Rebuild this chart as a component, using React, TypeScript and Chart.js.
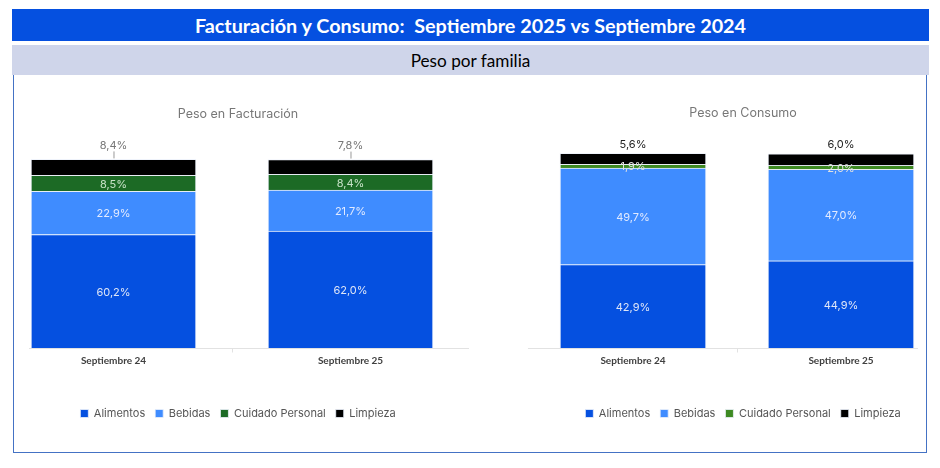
import React, { useRef, useEffect } from 'react';
import { Chart, ChartConfiguration, Plugin, registerables } from 'chart.js';

Chart.register(...registerables);

// categorías y familias
const categories = ['Septiembre 24', 'Septiembre 25'];
const families = ['Alimentos', 'Bebidas', 'Cuidado Personal', 'Limpieza'];

// Peso en Facturación (%)
const factAlimentos = [60.2, 62.0];
const factBebidas = [22.9, 21.7];
const factCuidado = [8.5, 8.4];
const factLimpieza = [8.4, 7.8];

// Peso en Consumo (%)
const consAlimentos = [42.9, 44.9];
const consBebidas = [49.7, 47.0];
const consCuidado = [1.9, 2.0];
const consLimpieza = [5.6, 6.0];

const chartFont = 'Inter, "Noto Sans", sans-serif';

const fmt = (v: number) => v.toFixed(1).replace('.', ',') + '%';

// etiquetas dentro de cada segmento, la última serie encima de la barra
const segmentLabels: Plugin<'bar'> = {
  id: 'segmentLabels',
  afterDatasetsDraw(chart, _args, opts: any) {
    const { ctx } = chart;
    const last = chart.data.datasets.length - 1;
    ctx.save();
    ctx.font = `${opts.size}px ${chartFont}`;
    ctx.textAlign = 'center';
    ctx.textBaseline = 'middle';
    chart.data.datasets.forEach((ds, di) => {
      const meta = chart.getDatasetMeta(di);
      meta.data.forEach((bar: any, i) => {
        const v = (ds.data[i] as any).y as number;
        const { x, y, base } = bar.getProps(['x', 'y', 'base'], true);
        if (di === last) {
          const ly = y - opts.outsideOffset;
          ctx.fillStyle = opts.outsideColor;
          ctx.fillText(fmt(v), x, ly);
          if (opts.leader) {
            ctx.strokeStyle = '#999';
            ctx.lineWidth = 1;
            ctx.beginPath();
            ctx.moveTo(x + 0.5, ly + 6);
            ctx.lineTo(x + 0.5, y - 1);
            ctx.stroke();
          }
        } else {
          ctx.fillStyle = opts.colors[di];
          ctx.fillText(fmt(v), x, (y + base) / 2 + 1);
        }
      });
    });
    ctx.restore();
  },
};

// línea de eje con su marca divisoria
const axisLine: Plugin<'bar'> = {
  id: 'axisLine',
  beforeDatasetsDraw(chart, _args, opts: any) {
    const { ctx } = chart;
    const xs = chart.scales.x;
    const y = Math.round(chart.chartArea.bottom) + 0.5;
    ctx.save();
    ctx.strokeStyle = opts.color;
    ctx.lineWidth = 1;
    ctx.beginPath();
    ctx.moveTo(xs.getPixelForValue(opts.from), y);
    ctx.lineTo(xs.getPixelForValue(opts.to), y);
    (opts.marks as number[]).forEach((m) => {
      const px = Math.round(xs.getPixelForValue(m)) + 0.5;
      ctx.moveTo(px, y);
      ctx.lineTo(px, y + 4);
    });
    ctx.stroke();
    ctx.restore();
  },
};

interface StackedProps {
  title: string;
  series: number[][];
  colors: string[];
  labelColors: string[];
  outsideColor: string;
  outsideOffset: number;
  leader: boolean;
  barThickness: number;
  xMin: number;
  xMax: number;
  axisFrom: number;
  axisTo: number;
  padLeft: number;
  padRight: number;
  titleTop: number;
  titleBottom: number;
  left: number;
  top: number;
  width: number;
  height: number;
}

const StackedChart: React.FC<StackedProps> = (p) => {
  const canvasRef = useRef<HTMLCanvasElement>(null);
  const chartRef = useRef<Chart | null>(null);

  useEffect(() => {
    if (!canvasRef.current) return;
    if (chartRef.current) chartRef.current.destroy();

    const yMax = Math.max(
      ...categories.map((_, i) => p.series.reduce((s, arr) => s + arr[i], 0))
    );

    const config: ChartConfiguration<'bar'> = {
      type: 'bar',
      data: {
        datasets: p.series.map((arr, di) => ({
          label: families[di],
          data: arr.map((v, i) => ({ x: i, y: v })) as any,
          backgroundColor: p.colors[di],
          borderColor: 'rgba(235,240,250,0.8)',
          borderWidth: 1,
          barThickness: p.barThickness,
          clip: false as any,
        })),
      },
      options: {
        responsive: true,
        maintainAspectRatio: false,
        animation: false,
        layout: { padding: { left: p.padLeft, right: p.padRight, top: 0, bottom: 20 } },
        scales: {
          x: {
            type: 'linear',
            offset: false,
            min: p.xMin,
            max: p.xMax,
            stacked: true,
            grid: { display: false, drawTicks: false, offset: false },
            border: { display: false },
            ticks: {
              stepSize: 1,
              includeBounds: false,
              autoSkip: false,
              maxRotation: 0,
              padding: 7,
              color: '#404040',
              font: { family: 'Lato, sans-serif', size: 10, weight: 'bold' },
              callback: (v: any) => (Number.isInteger(v) ? categories[v] ?? '' : ''),
            },
            afterFit: (s: any) => {
              s.height = 50;
            },
          },
          y: { stacked: true, min: 0, max: yMax, display: false },
        },
        plugins: {
          title: {
            display: true,
            text: p.title,
            color: '#777',
            font: { family: chartFont, size: 12.5, weight: 'normal' },
            padding: { top: p.titleTop, bottom: p.titleBottom },
          },
          legend: {
            position: 'bottom',
            labels: {
              boxWidth: 8,
              boxHeight: 8,
              padding: 10,
              color: '#555',
              font: { family: chartFont, size: 11 },
            },
          },
          tooltip: { enabled: false },
          segmentLabels: {
            size: 11,
            colors: p.labelColors,
            outsideColor: p.outsideColor,
            outsideOffset: p.outsideOffset,
            leader: p.leader,
          },
          axisLine: { color: '#e2e2e2', from: p.axisFrom, to: p.axisTo, marks: [0.5] },
        } as any,
      },
      plugins: [axisLine, segmentLabels],
    };

    chartRef.current = new Chart(canvasRef.current, config);
    return () => {
      if (chartRef.current) {
        chartRef.current.destroy();
        chartRef.current = null;
      }
    };
  }, [p]);

  return (
    <div style={{ position: 'absolute', left: p.left, top: p.top, width: p.width, height: p.height }}>
      <canvas ref={canvasRef} />
    </div>
  );
};

const factProps: StackedProps = {
  title: 'Peso en Facturación',
  series: [factAlimentos, factBebidas, factCuidado, factLimpieza],
  colors: ['#0550E0', '#3F8CFF', '#1C6A25', '#000000'],
  labelColors: ['#dfe6f7', '#e2eaff', '#c8e2c8'],
  outsideColor: '#777',
  outsideOffset: 14,
  leader: true,
  barThickness: 165,
  xMin: -0.3776,
  xMax: 1.4283,
  axisFrom: -0.3565,
  axisTo: 1.504,
  padLeft: 10,
  padRight: 17,
  titleTop: 30,
  titleBottom: 37.4,
  left: 14,
  top: 77,
  width: 455,
  height: 372,
};

const consProps: StackedProps = {
  title: 'Peso en Consumo',
  series: [consAlimentos, consBebidas, consCuidado, consLimpieza],
  colors: ['#0550E0', '#3F8CFF', '#3E8A22', '#000000'],
  labelColors: ['#dfe6f7', '#e2eaff', '#e0e0e0'],
  outsideColor: '#222',
  outsideOffset: 9,
  leader: false,
  barThickness: 146,
  xMin: -0.3029,
  xMax: 1.3606,
  axisFrom: -0.505,
  axisTo: 1.37,
  padLeft: 100,
  padRight: 9,
  titleTop: 29,
  titleBottom: 32.4,
  left: 470,
  top: 77,
  width: 455,
  height: 372,
};

export default function App() {
  return (
    <div
      style={{
        position: 'absolute',
        left: 0,
        top: 0,
        width: 940,
        height: 468,
        background: '#fff',
        fontFamily: 'Lato, "Open Sans", sans-serif',
      }}
    >
      <div
        style={{
          position: 'absolute',
          left: 12,
          top: 9,
          width: 917,
          height: 32,
          background: '#0550E0',
          color: '#fff',
          fontWeight: 700,
          fontSize: 19.8,
          display: 'flex',
          alignItems: 'center',
          justifyContent: 'center',
          whiteSpace: 'pre',
        }}
      >
        Facturación y Consumo:  Septiembre 2025 vs Septiembre 2024
      </div>
      <div
        style={{
          position: 'absolute',
          left: 12,
          top: 45,
          width: 917,
          height: 30,
          background: '#CFD5EA',
          color: '#000',
          fontSize: 17.2,
          display: 'flex',
          alignItems: 'center',
          justifyContent: 'center',
        }}
      >
        Peso por familia
      </div>
      <div
        style={{
          position: 'absolute',
          left: 13,
          top: 75,
          width: 914,
          height: 378,
          boxSizing: 'border-box',
          borderLeft: '1.5px solid #4472C4',
          borderRight: '1.5px solid #4472C4',
          borderBottom: '1.5px solid #4472C4',
        }}
      />
      <StackedChart {...factProps} />
      <StackedChart {...consProps} />
    </div>
  );
}
